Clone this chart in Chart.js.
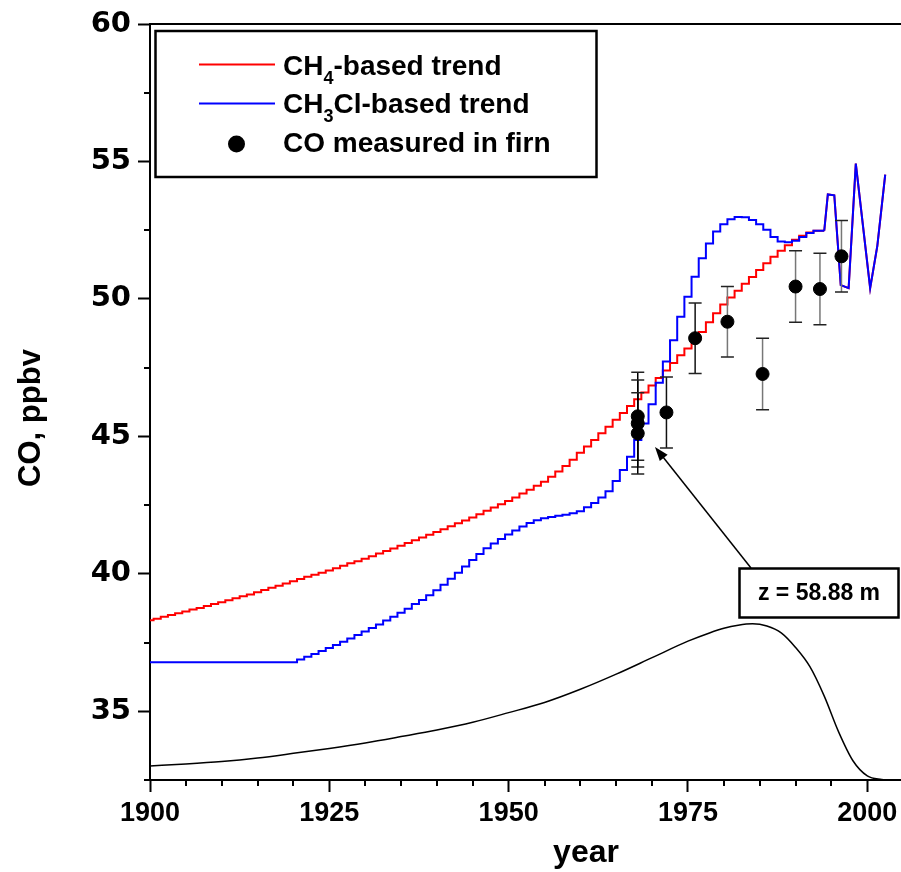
<!DOCTYPE html>
<html><head><meta charset="utf-8">
<script src="https://cdn.jsdelivr.net/npm/chart.js@4.4.0/dist/chart.umd.min.js"></script>
<style>
html,body{margin:0;padding:0;overflow:hidden;background:#fff;}
canvas{display:block;}
</style></head><body>
<canvas id="c" width="901" height="872"></canvas>
<script>
// ---------- data ----------
const trendYears = [
 1900,1901,1902,1903,1904,1905,1906,1907,1908,1909,
 1910,1911,1912,1913,1914,1915,1916,1917,1918,1919,
 1920,1921,1922,1923,1924,1925,1926,1927,1928,1929,
 1930,1931,1932,1933,1934,1935,1936,1937,1938,1939,
 1940,1941,1942,1943,1944,1945,1946,1947,1948,1949,
 1950,1951,1952,1953,1954,1955,1956,1957,1958,1959,
 1960,1961,1962,1963,1964,1965,1966,1967,1968,1969,
 1970,1971,1972,1973,1974,1975,1976,1977,1978,1979,
 1980,1981,1982,1983,1984,1985,1986,1987,1988,1989,
 1990,1991,1992,1993,1994];
const ch4Trend = [
 38.31,38.37,38.44,38.50,38.57,38.63,38.70,38.76,38.83,38.90,
 38.97,39.04,39.11,39.18,39.25,39.33,39.41,39.49,39.57,39.65,
 39.73,39.81,39.89,39.97,40.04,40.12,40.20,40.29,40.38,40.46,
 40.55,40.64,40.74,40.83,40.92,41.02,41.12,41.22,41.32,41.42,
 41.52,41.62,41.73,41.84,41.94,42.05,42.17,42.29,42.41,42.53,
 42.65,42.78,42.92,43.06,43.20,43.35,43.53,43.72,43.92,44.15,
 44.40,44.63,44.87,45.11,45.35,45.60,45.85,46.10,46.35,46.60,
 46.85,47.12,47.40,47.67,47.95,48.20,48.45,48.80,49.15,49.48,
 49.80,50.05,50.30,50.55,50.80,51.05,51.30,51.53,51.75,51.95,
 52.15,52.30,52.42,52.48,52.48];
const ch3clTrend = [
 36.78,36.78,36.78,36.78,36.78,36.78,36.78,36.78,36.78,36.78,
 36.78,36.78,36.78,36.78,36.78,36.78,36.78,36.78,36.78,36.78,
 36.78,36.88,36.98,37.08,37.19,37.30,37.41,37.53,37.65,37.77,
 37.90,38.03,38.16,38.30,38.44,38.58,38.73,38.90,39.05,39.22,
 39.40,39.60,39.82,40.04,40.27,40.50,40.72,40.93,41.10,41.27,
 41.43,41.58,41.72,41.85,41.95,42.02,42.07,42.11,42.15,42.20,
 42.28,42.42,42.58,42.78,43.00,43.38,43.78,44.26,44.87,45.47,
 46.17,46.95,47.72,48.50,49.35,50.08,50.81,51.48,52.02,52.45,
 52.72,52.90,52.98,52.97,52.87,52.72,52.52,52.25,52.09,52.06,
 52.12,52.25,52.40,52.48,52.48];
// recent years (common to both trends, drawn as straight segments)
const recentYears = [1994, 1994.5, 1995.4, 1996.3, 1997.4, 1998.4, 2000.4, 2001.4, 2002.5];
const recentCO    = [52.48, 53.80, 53.77, 50.50, 50.39, 54.92, 50.39, 51.93, 54.52];
// age distribution curve at z = 58.88 m (drawn in CO units)
const ageYears = [1900,1905,1910,1915,1920,1925,1930,1935,1940,1945,1950,1955,1960,1965,1970,
                  1975,1978,1980,1982,1984,1986,1988,1990,1992,1994,1996,1998,2000,2002,2003];
const ageCurve = [33.01,33.08,33.17,33.30,33.47,33.65,33.85,34.08,34.32,34.60,34.95,35.32,35.80,36.35,36.95,
                  37.55,37.85,38.02,38.13,38.18,38.10,37.85,37.32,36.62,35.55,34.25,33.20,32.65,32.52,32.50];
// CO measured in firn
const firnYears = [1968, 1968, 1968, 1972, 1976, 1980.5, 1985.4, 1990, 1993.4, 1996.4];
const firnCO    = [45.73, 45.47, 45.11, 45.87, 48.57, 49.17, 47.27, 50.45, 50.36, 51.55];
const firnErr   = [1.60, 1.58, 1.48, 1.29, 1.28, 1.28, 1.30, 1.30, 1.30, 1.30];
// ticks
const xMajorTicks = [1900, 1925, 1950, 1975, 2000];
const xMinorTicks = [1905,1910,1915,1920,1930,1935,1940,1945,1955,1960,1965,1970,1980,1985,1990,1995];
const yMajorTicks = [35, 40, 45, 50, 55, 60];
const yMinorTicks = [32.5, 37.5, 42.5, 47.5, 52.5, 57.5];
const X_MIN = 1900, X_MAX = 2004.7, Y_MIN = 32.5, Y_MAX = 60;

// ---------- styles ----------
const errColors = ['#000','#000','#000','#111','#111','#777','#777','#777','#777','#777'];
const FAM = '"Liberation Sans", Arial, sans-serif';

const pairs = (xs, ys) => xs.map((x, i) => ({x, y: ys[i]}));

const decor = {
  id: 'decor',
  beforeDatasetDraw(chart, args) {
    if (args.index !== 0) return;
    const {ctx, scales: {x, y}} = chart;
    ctx.save();
    ctx.lineWidth = 1.5;
    for (let i = 0; i < firnYears.length; i++) {
      const px = x.getPixelForValue(firnYears[i]);
      const y1 = y.getPixelForValue(firnCO[i] + firnErr[i]);
      const y2 = y.getPixelForValue(firnCO[i] - firnErr[i]);
      ctx.strokeStyle = errColors[i];
      ctx.beginPath(); ctx.moveTo(px, y1); ctx.lineTo(px, y2); ctx.stroke();
      ctx.strokeStyle = '#222';
      ctx.beginPath();
      ctx.moveTo(px - 6.5, y1); ctx.lineTo(px + 6.5, y1);
      ctx.moveTo(px - 6.5, y2); ctx.lineTo(px + 6.5, y2);
      ctx.stroke();
    }
    ctx.restore();
  },
  afterDraw(chart) {
    const {ctx, chartArea: a, scales: {x, y}} = chart;
    ctx.save();
    ctx.strokeStyle = '#000';
    ctx.lineWidth = 2;
    // top frame
    ctx.beginPath(); ctx.moveTo(a.left - 1, a.top); ctx.lineTo(a.right, a.top); ctx.stroke();
    // minor ticks
    ctx.beginPath();
    for (const v of xMinorTicks) {
      const px = Math.round(x.getPixelForValue(v));
      ctx.moveTo(px, a.bottom); ctx.lineTo(px, a.bottom + 6);
    }
    for (const v of yMinorTicks) {
      const py = Math.round(y.getPixelForValue(v));
      ctx.moveTo(a.left, py); ctx.lineTo(a.left - 6, py);
    }
    ctx.stroke();

    // legend box
    ctx.lineWidth = 2.5;
    ctx.strokeRect(155.5, 31, 441, 146);
    ctx.lineWidth = 2;
    ctx.strokeStyle = '#ff0000';
    ctx.beginPath(); ctx.moveTo(199, 64.5); ctx.lineTo(275, 64.5); ctx.stroke();
    ctx.strokeStyle = '#0000ff';
    ctx.beginPath(); ctx.moveTo(199, 103.5); ctx.lineTo(275, 103.5); ctx.stroke();
    ctx.fillStyle = '#000';
    ctx.beginPath(); ctx.arc(236.5, 144, 8.5, 0, Math.PI * 2); ctx.fill();
    const big = 'bold 28px ' + FAM, small = 'bold 18px ' + FAM;
    const rich = (parts, x0, y0) => {
      let cx = x0;
      for (const [t, sub] of parts) {
        ctx.font = sub ? small : big;
        ctx.fillText(t, cx, sub ? y0 + 9 : y0);
        cx += ctx.measureText(t).width;
      }
    };
    ctx.textAlign = 'left'; ctx.textBaseline = 'alphabetic';
    rich([['CH', false], ['4', true], ['-based trend', false]], 283, 75);
    rich([['CH', false], ['3', true], ['Cl-based trend', false]], 283, 113);
    rich([['CO measured in firn', false]], 283, 152);

    // annotation
    ctx.strokeStyle = '#000';
    ctx.lineWidth = 2.5;
    ctx.strokeRect(739.5, 568.5, 159, 49);
    ctx.font = 'bold 23px ' + FAM;
    ctx.textAlign = 'center'; ctx.textBaseline = 'middle';
    ctx.fillText('z = 58.88 m', 819, 594);
    // arrow
    const tx = 655, ty = 447, sx = 751, sy = 568;
    const dx = tx - sx, dy = ty - sy, len = Math.hypot(dx, dy), ux = dx / len, uy = dy / len;
    ctx.lineWidth = 1.5;
    ctx.beginPath(); ctx.moveTo(sx, sy); ctx.lineTo(tx - ux * 10, ty - uy * 10); ctx.stroke();
    ctx.beginPath();
    ctx.moveTo(tx, ty);
    ctx.lineTo(tx - ux * 14 - uy * 5, ty - uy * 14 + ux * 5);
    ctx.lineTo(tx - ux * 14 + uy * 5, ty - uy * 14 - ux * 5);
    ctx.closePath(); ctx.fill();

    // axis titles
    ctx.font = 'bold 32px ' + FAM;
    ctx.textAlign = 'center'; ctx.textBaseline = 'alphabetic';
    ctx.fillText('year', 586, 862);
    ctx.font = 'bold 31px ' + FAM;
    ctx.translate(40, 418); ctx.rotate(-Math.PI / 2);
    ctx.fillText('CO, ppbv', 0, 0);
    ctx.restore();
  }
};

new Chart(document.getElementById('c'), {
  type: 'line',
  data: {
    datasets: [
      { data: pairs(firnYears, firnCO), showLine: false, pointRadius: 6.5, pointHoverRadius: 6.5,
        pointBackgroundColor: '#000', pointBorderColor: '#000', borderColor: '#000' },
      { data: pairs(recentYears, recentCO), borderColor: '#0000ff', borderWidth: 2, pointRadius: 0, tension: 0 },
      { data: pairs(trendYears, ch3clTrend), borderColor: '#0000ff', borderWidth: 2, pointRadius: 0, stepped: 'middle' },
      { data: pairs(recentYears, recentCO), borderColor: '#ff0000', borderWidth: 2, pointRadius: 0, tension: 0 },
      { data: pairs(trendYears, ch4Trend), borderColor: '#ff0000', borderWidth: 2, pointRadius: 0, stepped: 'middle' },
      { data: pairs(ageYears, ageCurve), borderColor: '#000', borderWidth: 1.5, pointRadius: 0,
        cubicInterpolationMode: 'monotone' }
    ]
  },
  options: {
    responsive: false, animation: false, devicePixelRatio: 1,
    layout: { autoPadding: false, padding: { left: 0, top: 24, right: 0, bottom: 0 } },
    plugins: { legend: { display: false }, tooltip: { enabled: false } },
    scales: {
      x: {
        type: 'linear', min: X_MIN, max: X_MAX,
        afterFit: s => { s.height = 92; s.paddingLeft = 0; s.paddingRight = 0; },
        afterBuildTicks: s => { s.ticks = xMajorTicks.map(v => ({value: v})); },
        grid: { drawOnChartArea: false, drawTicks: true, tickLength: 12, tickWidth: 2, tickColor: '#000' },
        border: { display: true, color: '#000', width: 2 },
        ticks: { color: '#000', font: { family: FAM, size: 27, weight: 'bold' }, padding: 5,
                 maxRotation: 0, autoSkip: false, callback: v => String(v) }
      },
      y: {
        type: 'linear', min: Y_MIN, max: Y_MAX,
        afterFit: s => { s.width = 150; s.paddingTop = 0; s.paddingBottom = 0; },
        afterBuildTicks: s => { s.ticks = yMajorTicks.map(v => ({value: v})); },
        grid: { drawOnChartArea: false, drawTicks: true, tickLength: 12, tickWidth: 2, tickColor: '#000' },
        border: { display: true, color: '#000', width: 2 },
        ticks: { color: '#000', font: { family: '"DejaVu Sans", sans-serif', size: 29, weight: 'bold' },
                 padding: 7, autoSkip: false, callback: v => String(v) }
      }
    }
  },
  plugins: [decor]
});
</script>
</body></html>
